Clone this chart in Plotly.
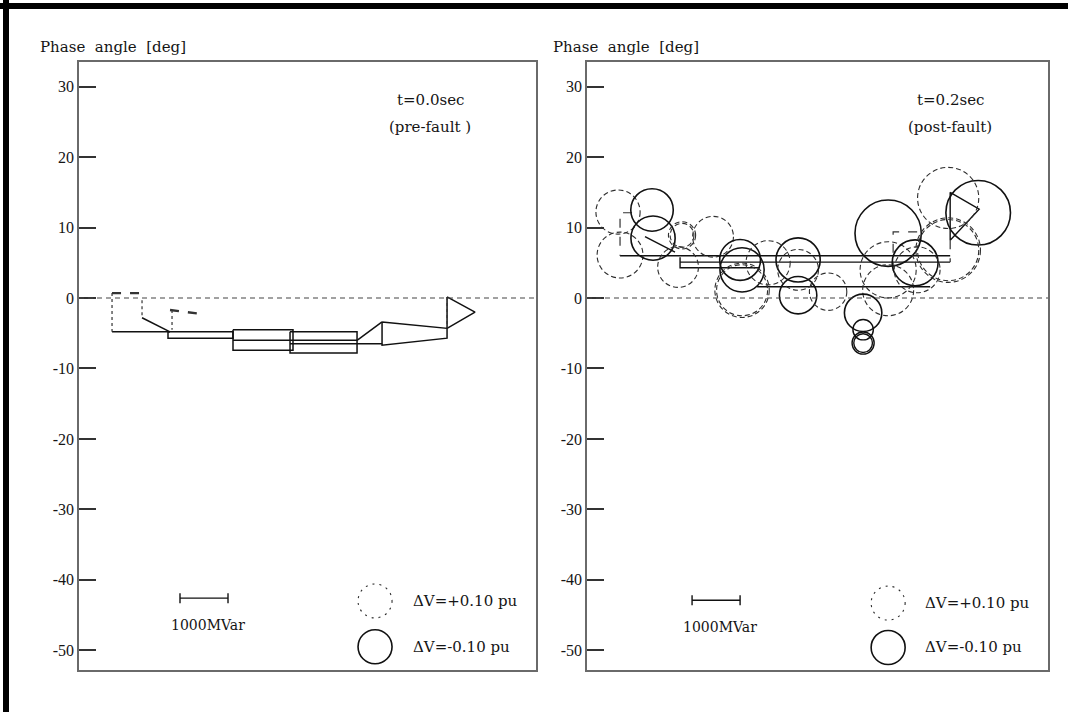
import plotly.graph_objects as go

W, H = 1068, 712
SERIF = "Liberation Serif, Times New Roman, serif"
WIDE_SERIF = "DejaVu Serif, Liberation Serif, serif"

# ---- axes ----
y_ticks = [30, 20, 10, 0, -10, -20, -30, -40, -50]
y_range = [-52.8, 33.5]
x_range_pre = [0, 9520]      # MVar
x_range_post = [0, 9600]     # MVar
x_dom_pre = [79 / W, 536 / W]
x_dom_post = [587 / W, 1048 / W]
y_dom = [42 / H, 650 / H]

# ---- pre-fault network (x in MVar, y in deg); None breaks the path ----
pre_solid_x = [688, 1896, None, 1313, 1896, None,
               1854, 3208, 3208, 1854, 1854, None,
               3208, 4458, 4458, 3208, 3208, None,
               4396, 5792, 5792, 4396, 4396, None,
               3208, 5792, None, 4396, 6313, None,
               5792, 6313, None,
               6313, 7667, 7667, 6313, 6313, None,
               7667, 8250, 7667, 7667]
pre_solid_y = [-4.8, -4.8, None, -2.8, -4.8, None,
               -4.8, -4.8, -5.7, -5.7, -4.8, None,
               -4.5, -4.5, -7.4, -7.4, -4.5, None,
               -4.8, -4.8, -7.8, -7.8, -4.8, None,
               -6.0, -6.0, None, -6.5, -6.5, None,
               -6.0, -3.4, None,
               -3.4, -4.3, -5.7, -6.7, -3.4, None,
               0.15, -2.0, -4.3, 0.15]
pre_dash_x = [688, 688, None, 1313, 1313, None, 1938, 1938, None, 7667, 7667]
pre_dash_y = [0.7, -4.8, None, -0.3, -2.8, None, -1.7, -4.5, None, 0.15, -4.3]
pre_thick_x = [688, 1375, None, 1896, 2583]
pre_thick_y = [0.7, 0.7, None, -1.7, -2.3]

# ---- post-fault network ----
post_solid_x = [688, 7563, None, 1938, 7563, None,
                1938, 1938, 3604, None, 3542, 7146, None,
                1208, 1833, None,
                7563, 8167, 7563, 7563]
post_solid_y = [6.0, 6.0, None, 5.1, 5.1, None,
                5.8, 4.3, 4.3, None, 1.6, 1.6, None,
                8.7, 6.5, None,
                15.0, 12.6, 8.2, 15.0]
post_dash_x = [938, 688, 688, None, 6875, 6375, 6375, None, 7563, 7563]
post_dash_y = [12.1, 12.1, 6.0, None, 9.4, 9.4, 3.0, None, 8.2, 5.1]

# ---- bus voltage deviations after the fault (circle size ~ |dV|) ----
bus_x = [646, 688, 1354, 1375, 1979, 1979, 1896, 2625,
         3188, 3229, 3229, 3229, 3771, 4396, 4396, 4396, 5021,
         6271, 6271, 6271, 6833, 6875, 7521, 8146, 7521, 7521,
         5750, 5750, 5750, 5750]
bus_y = [12.2, 6.1, 12.5, 8.5, 8.9, 8.9, 4.4, 8.7,
         5.4, 4.0, 1.1, 1.1, 5.0, 5.4, 4.0, 0.4, 0.9,
         9.2, 4.0, 1.1, 5.0, 4.0, 14.2, 12.1, 6.8, 6.8,
         -2.1, -4.5, -6.4, -6.4]
bus_dv = [0.13, 0.135, -0.125, -0.13, 0.07, 0.08, 0.12, 0.12,
          -0.12, -0.13, 0.15, 0.16, 0.13, -0.13, 0.12, -0.11, 0.11,
          -0.195, 0.165, 0.15, -0.135, 0.135, 0.18, -0.19, 0.18, 0.19,
          -0.11, -0.06, -0.055, -0.065]

legend_dv = [0.10, -0.10]
legend_text = ["\u0394V=+0.10 pu", "\u0394V=-0.10 pu"]
scale_mvar = 1000

fig = go.Figure()

INK = "#111111"
TEXT = "#151515"


def add_lines(xs, ys, xa, ya, width, dash, color=INK):
    fig.add_trace(go.Scatter(x=xs, y=ys, mode="lines", xaxis=xa, yaxis=ya,
                             line=dict(color=color, width=width, dash=dash),
                             hoverinfo="skip", showlegend=False, connectgaps=False))


add_lines(pre_solid_x, pre_solid_y, "x", "y", 1.5, "solid")
add_lines(pre_dash_x, pre_dash_y, "x", "y", 1.2, "dot", "#333")
add_lines(pre_thick_x, pre_thick_y, "x", "y", 2.4, "dash", "#333")
add_lines(post_solid_x, post_solid_y, "x2", "y2", 1.4, "solid")
add_lines(post_dash_x, post_dash_y, "x2", "y2", 1.2, "dash", "#333")


# pixel scales of each panel
def scales(xr, xd):
    sx = (xd[1] - xd[0]) * W / (xr[1] - xr[0])
    sy = (y_dom[1] - y_dom[0]) * H / (y_range[1] - y_range[0])
    return sx, sy


PX_PER_PU = 170.0
shapes = []


def circle(cx, cy, dv, xr, xd, xref, yref, pos_dash="5px,3px"):
    sx, sy = scales(xr, xd)
    r = PX_PER_PU * abs(dv)
    if dv >= 0:
        line = dict(color="#2e2e2e", width=1.1, dash=pos_dash)
    else:
        line = dict(color=INK, width=1.6 if r > 15 else 1.4, dash="solid")
    shapes.append(dict(type="circle", xref=xref, yref=yref,
                       x0=cx - r / sx, x1=cx + r / sx,
                       y0=cy - r / sy, y1=cy + r / sy, line=line))


for bx, by, dv in zip(bus_x, bus_y, bus_dv):
    circle(bx, by, dv, x_range_post, x_dom_post, "x2", "y2")

annotations = []
panels = [
    ("x", "y", x_range_pre, x_dom_pre, 6167, 6917, 2104, [-43.0, -49.5],
     7313, "t=0.0sec", "(pre-fault )", 38),
    ("x2", "y2", x_range_post, x_dom_post, 6271, 7000, 2188, [-43.3, -49.6],
     7563, "t=0.2sec", "(post-fault)", 551),
]
for xa, ya, xr, xd, lcx, ltx, sbx, lys, tx, t1, t2, title_px in panels:
    sx, sy = scales(xr, xd)
    # zero-angle reference line
    shapes.append(dict(type="line", xref=xa, yref=ya, x0=xr[0], x1=xr[1], y0=0, y1=0,
                       line=dict(color="#444", width=1.1, dash="5px,4px")))
    # legend circles
    for dv, ly, txt in zip(legend_dv, lys, legend_text):
        circle(lcx, ly, dv, xr, xd, xa, ya, pos_dash="2px,5px")
        annotations.append(dict(x=ltx, y=ly, xref=xa, yref=ya, text=txt,
                                showarrow=False, xanchor="left", yanchor="middle",
                                font=dict(family=WIDE_SERIF, size=15, color=TEXT)))
    # reactive power scale bar
    sb_y = lys[0] + 0.4
    cap = 5 / sy
    shapes.append(dict(type="line", xref=xa, yref=ya, x0=sbx, x1=sbx + scale_mvar,
                       y0=sb_y, y1=sb_y, line=dict(color=INK, width=1.4)))
    for ex in (sbx, sbx + scale_mvar):
        shapes.append(dict(type="line", xref=xa, yref=ya, x0=ex, x1=ex,
                           y0=sb_y - cap, y1=sb_y + cap, line=dict(color=INK, width=1.4)))
    annotations.append(dict(x=sbx + scale_mvar / 2 + 80, y=sb_y - 3.8, xref=xa, yref=ya,
                            text="1000MVar", showarrow=False,
                            font=dict(family=WIDE_SERIF, size=14, color=TEXT)))
    # time labels
    annotations.append(dict(x=tx, y=28.1, xref=xa, yref=ya, text=t1, showarrow=False,
                            font=dict(family=WIDE_SERIF, size=15, color=TEXT)))
    annotations.append(dict(x=tx, y=24.3, xref=xa, yref=ya, text=t2, showarrow=False,
                            font=dict(family=WIDE_SERIF, size=15, color=TEXT)))
    # axis title
    annotations.append(dict(x=title_px / W, y=(H - 47) / H, xref="paper", yref="paper",
                            text="Phase  angle  [deg]", showarrow=False,
                            xanchor="left", yanchor="middle",
                            font=dict(family=WIDE_SERIF, size=15, color=TEXT)))

# heavy frame along top and left edges
shapes.append(dict(type="line", xref="paper", yref="paper", x0=0, x1=1,
                   y0=(H - 6) / H, y1=(H - 6) / H, line=dict(color="black", width=6)))
shapes.append(dict(type="line", xref="paper", yref="paper", x0=6 / W, x1=6 / W,
                   y0=0, y1=1, line=dict(color="black", width=6)))

axis_common = dict(showgrid=False, zeroline=False, showline=True, mirror=True,
                   linecolor="#6a6a6a", linewidth=1.6)
yaxis_common = dict(axis_common, range=y_range, domain=y_dom, tickvals=y_ticks,
                    ticktext=[str(v) for v in y_ticks], ticks="inside", ticklen=17,
                    tickwidth=1.6, tickcolor="#333",
                    tickfont=dict(family=SERIF, size=16, color=TEXT))
xaxis_common = dict(axis_common, showticklabels=False, ticks="")

fig.update_layout(
    width=W, height=H, margin=dict(l=0, r=0, t=0, b=0),
    paper_bgcolor="white", plot_bgcolor="white", showlegend=False,
    xaxis=dict(xaxis_common, range=x_range_pre, domain=x_dom_pre, anchor="y"),
    yaxis=dict(yaxis_common, anchor="x"),
    xaxis2=dict(xaxis_common, range=x_range_post, domain=x_dom_post, anchor="y2"),
    yaxis2=dict(yaxis_common, anchor="x2"),
    shapes=shapes, annotations=annotations,
)

fig.write_html("out.html")
